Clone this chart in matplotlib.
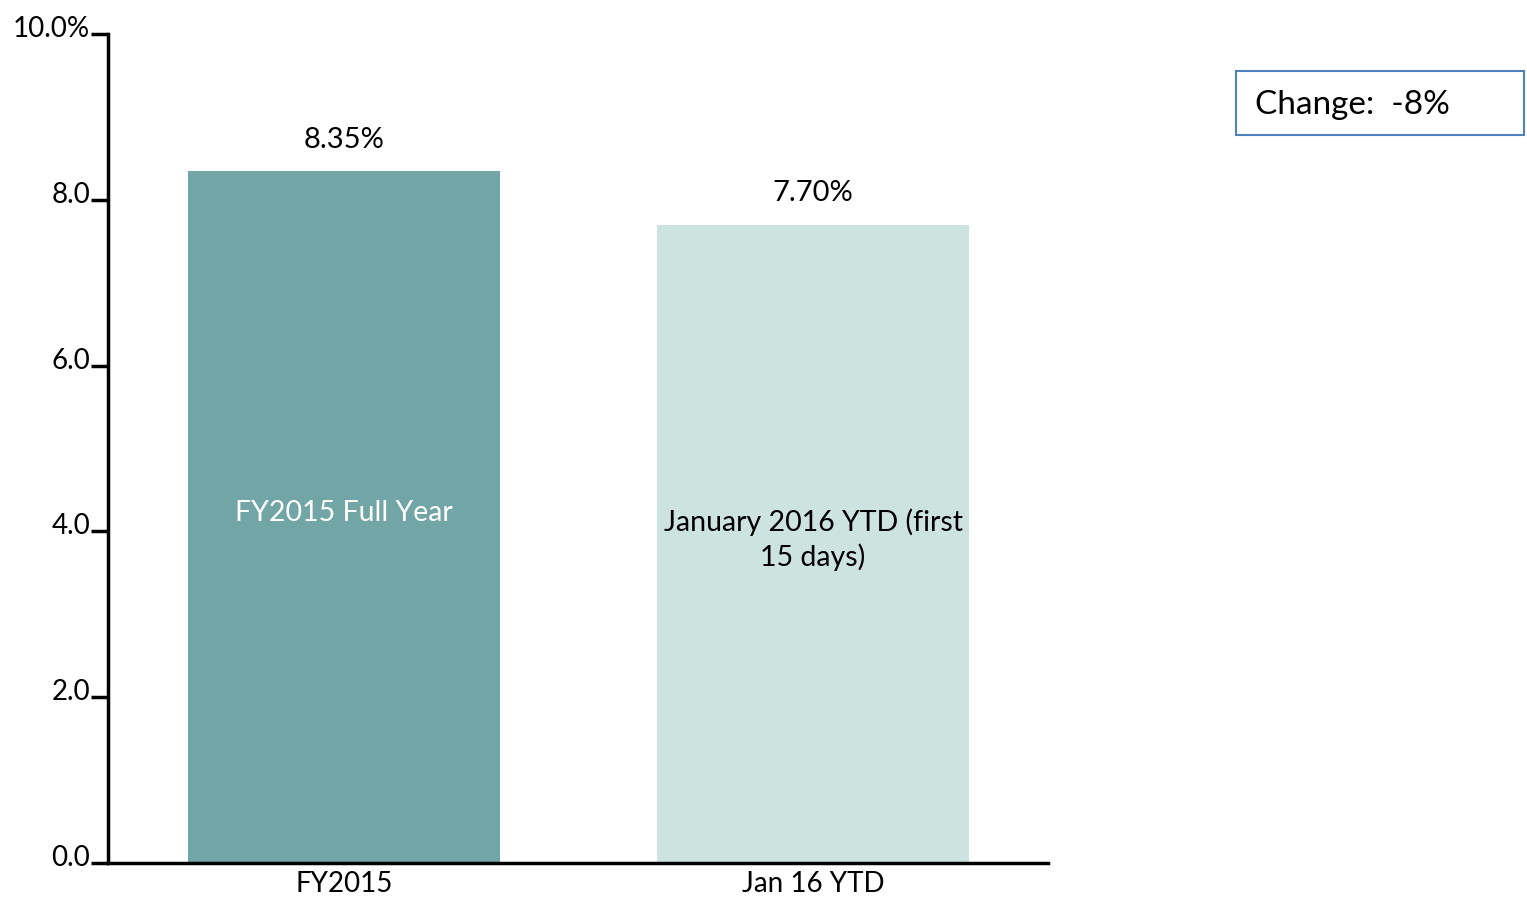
import matplotlib
matplotlib.use("Agg")
import matplotlib.pyplot as plt
from matplotlib.patches import Rectangle
from matplotlib.transforms import ScaledTranslation

plt.rcParams['font.family'] = ['Lato', 'DejaVu Sans']

# data
categories = ['FY2015', 'Jan 16 YTD']
values = [8.35, 7.70]
value_labels = ['8.35%', '7.70%']
inner_labels = ['FY2015 Full Year', 'January 2016 YTD (first\n15 days)']
yticks = [0, 2, 4, 6, 8, 10]
ytick_labels = ['0.0', '2.0', '4.0', '6.0', '8.0', '10.0%']
bar_colors = ['#72a5a5', '#cde3e0']
inner_colors = ['white', 'black']
change_text = 'Change:  -8%'

W, H = 1527, 901
fig = plt.figure(figsize=(W / 100, H / 100), dpi=100)
ax = fig.add_axes([108 / W, (H - 863) / H, (1048 - 108) / W, (863 - 34) / H])

x = range(len(categories))
bars = ax.bar(x, values, width=0.665, color=bar_colors)

ax.set_xlim(-0.503, 1.501)
ax.set_ylim(0, 10)

for b, v, lab, inner, c in zip(bars, values, value_labels, inner_labels, inner_colors):
    cx = b.get_x() + b.get_width() / 2
    ax.text(cx, v + 0.22, lab, ha='center', va='bottom', fontsize=21)
    ax.text(cx, v / 2 + 0.05, inner, ha='center', va='center', fontsize=20.5,
            color=c, linespacing=1.35)

ax.spines['top'].set_visible(False)
ax.spines['right'].set_visible(False)
ax.spines['left'].set_linewidth(2.5)
ax.spines['bottom'].set_linewidth(2.5)

ax.set_yticks(yticks)
ax.set_yticklabels(ytick_labels, fontsize=20, va='baseline')
ax.tick_params(axis='y', length=12, width=2.5, pad=1, direction='out')
# nudge y labels down a little, baseline sits just under the tick
for t in ax.get_yticklabels():
    t.set_transform(t.get_transform() + ScaledTranslation(0, -3 / 100, fig.dpi_scale_trans))
ax.set_xticks(list(x))
ax.set_xticklabels(categories, fontsize=20)
ax.tick_params(axis='x', length=0, pad=6)

# change box
fig.patches.append(Rectangle((1236 / W, (H - 135) / H), (1524 - 1236) / W, (135 - 71) / H,
                             transform=fig.transFigure, fill=False,
                             edgecolor='#4f81bd', linewidth=1.5))
fig.text(1255 / W, (H - 105) / H, change_text, fontsize=24, va='center', ha='left')

fig.savefig('out.png', dpi=100)
